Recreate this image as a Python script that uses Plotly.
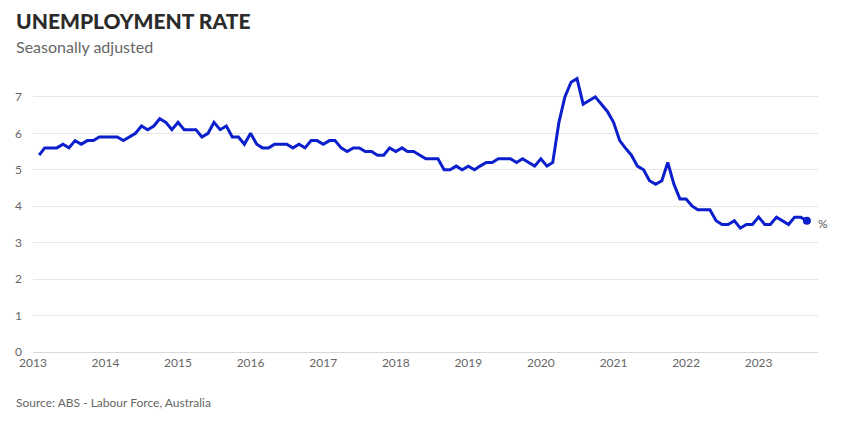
import plotly.graph_objects as go
import pandas as pd

start_month = "2013-02-01"
rate = [
    5.4, 5.6, 5.6, 5.6, 5.7, 5.6, 5.8, 5.7, 5.8, 5.8, 5.9,
    5.9, 5.9, 5.9, 5.8, 5.9, 6.0, 6.2, 6.1, 6.2, 6.4, 6.3, 6.1, 6.3,
    6.1, 6.1, 6.1, 5.9, 6.0, 6.3, 6.1, 6.2, 5.9, 5.9, 5.7, 6.0,
    5.7, 5.6, 5.6, 5.7, 5.7, 5.7, 5.6, 5.7, 5.6, 5.8, 5.8, 5.7,
    5.8, 5.8, 5.6, 5.5, 5.6, 5.6, 5.5, 5.5, 5.4, 5.4, 5.6, 5.5,
    5.6, 5.5, 5.5, 5.4, 5.3, 5.3, 5.3, 5.0, 5.0, 5.1, 5.0, 5.1,
    5.0, 5.1, 5.2, 5.2, 5.3, 5.3, 5.3, 5.2, 5.3, 5.2, 5.1, 5.3,
    5.1, 5.2, 6.3, 7.0, 7.4, 7.5, 6.8, 6.9, 7.0, 6.8, 6.6, 6.3,
    5.8, 5.6, 5.4, 5.1, 5.0, 4.7, 4.6, 4.7, 5.2, 4.6, 4.2, 4.2,
    4.0, 3.9, 3.9, 3.9, 3.6, 3.5, 3.5, 3.6, 3.4, 3.5, 3.5, 3.7,
    3.5, 3.5, 3.7, 3.6, 3.5, 3.7, 3.7, 3.6,
]
dates = pd.date_range(start_month, periods=len(rate), freq="MS")
year_ticks = [str(y) for y in range(2013, 2024)]
y_ticks = [0, 1, 2, 3, 4, 5, 6, 7]

LINE = "#0b1fcc"
GRAY = "#666666"
FONT = "Lato"

W, H = 832, 408
L, R, T, B = 25, 22, 67, 64
PW, PH = W - L - R, H - T - B

fig = go.Figure()
fig.add_trace(go.Scatter(
    x=dates, y=rate, mode="lines",
    line=dict(color=LINE, width=3), hoverinfo="skip", showlegend=False,
))
fig.add_trace(go.Scatter(
    x=[dates[-1]], y=[rate[-1]], mode="markers",
    marker=dict(color=LINE, size=8), hoverinfo="skip", showlegend=False,
))

def px(xp):
    return (xp - L) / PW

def py(yp):
    return (H - B - yp) / PH

fig.update_layout(
    width=W, height=H,
    margin=dict(l=L, r=R, t=T, b=B, autoexpand=False),
    paper_bgcolor="white", plot_bgcolor="white",
    font=dict(family=FONT, color=GRAY, size=12),
    xaxis=dict(
        type="date",
        range=["2013-01-01", "2023-10-27"],
        tickvals=[f"{y}-01-01" for y in year_ticks],
        ticktext=year_ticks,
        showgrid=False, zeroline=False,
        showline=True, linecolor="#d9d9d9", linewidth=1,
        ticks="", tickfont=dict(size=12, color=GRAY),
        fixedrange=True,
    ),
    yaxis=dict(
        range=[0, 7.6],
        tickvals=y_ticks,
        showgrid=True, gridcolor="#e6e6e6", gridwidth=1,
        zeroline=False, showline=False, ticks="",
        ticklabelstandoff=10,
        tickfont=dict(size=12, color=GRAY),
        fixedrange=True,
    ),
    annotations=[
        dict(text="UNEMPLOYMENT RATE", xref="paper", yref="paper",
             x=px(6), y=py(12), xanchor="left", yanchor="middle",
             showarrow=False,
             font=dict(family=FONT, size=21, color="#2b2b2b", weight=900)),
        dict(text="Seasonally adjusted", xref="paper", yref="paper",
             x=px(6), y=py(39), xanchor="left", yanchor="middle",
             showarrow=False, font=dict(family=FONT, size=16, color=GRAY)),
        dict(text="Source: ABS - Labour Force, Australia", xref="paper", yref="paper",
             x=px(6), y=py(394), xanchor="left", yanchor="middle",
             showarrow=False, font=dict(family=FONT, size=12, color=GRAY)),
        dict(text="%", xref="paper", yref="y",
             x=1, y=rate[-1], xanchor="left", yanchor="middle",
             xshift=-2, yshift=-3, showarrow=False,
             font=dict(family=FONT, size=12, color="#555555")),
    ],
)

fig.write_html("out.html")
